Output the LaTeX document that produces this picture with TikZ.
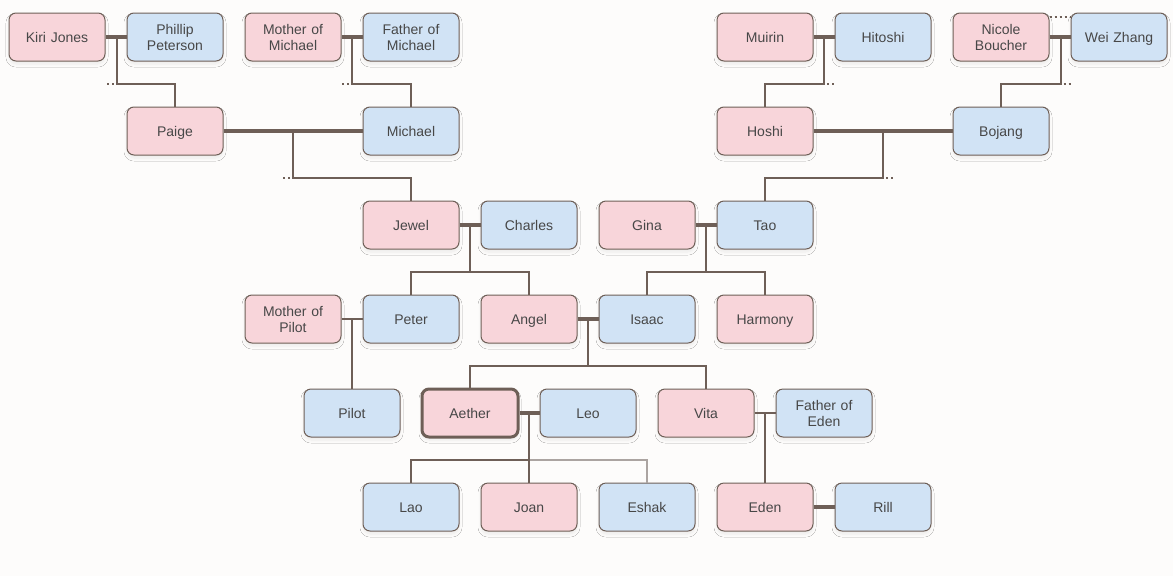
\documentclass[tikz,border=0pt]{standalone}
\usepackage{fontspec}
\setmainfont{Liberation Sans}
\usetikzlibrary{shadows.blur}

\definecolor{Line}{HTML}{6E5F57}
\definecolor{Her}{HTML}{F8D5DA}
\definecolor{Him}{HTML}{D1E3F5}
\definecolor{Txt}{HTML}{474747}
\definecolor{Faded}{HTML}{ABA4A1}
\definecolor{Paper}{HTML}{FDFCFB}

\tikzset{
  person/.style={rectangle, rounded corners=7, draw=Line, line width=1,
    minimum width=96, minimum height=48, text width=86, align=center,
    font=\fontsize{14}{16}\selectfont, text=Txt,
    execute at begin node={\rule[-4pt]{0pt}{19pt}},
    execute at end node={\rule[-4pt]{0pt}{4pt}},
    blur shadow={shadow xshift=0pt, shadow yshift=-3pt, shadow opacity=7,
      shadow blur radius=3pt, shadow blur steps=8}},
  her/.style={person, fill=Her},
  him/.style={person, fill=Him},
  couple/.style={line width=4.5, color=Line},
  kin/.style={line width=2, color=Line},
  trail/.style={line width=2, color=Line, dash pattern=on 2pt off 3pt},
}

\begin{document}
\begin{tikzpicture}[x=1pt, y=-1pt]

 \fill [Paper] (0,0) rectangle (1173,576);
 \useasboundingbox (0,0) rectangle (1173,576);

%%%%%%%%%% Generation 1 %%%%%%%%%%
 \node [her] (kiri) at (57,37) {Kiri Jones};
 \node [him] (phillip) at (175,37) {Phillip\\Peterson};
 \node [her] (motherMichael) at (293,37) {Mother of\\Michael};
 \node [him] (fatherMichael) at (411,37) {Father of\\Michael};
 \node [her] (muirin) at (765,37) {Muirin};
 \node [him] (hitoshi) at (883,37) {Hitoshi};
 \node [her] (nicole) at (1001,37) {Nicole\\Boucher};
 \node [him] (wei) at (1119,37) {Wei Zhang};

%%%%%%%%%% Generation 2 %%%%%%%%%%
 \node [her] (paige) at (175,131) {Paige};
 \node [him] (michael) at (411,131) {Michael};
 \node [her] (hoshi) at (765,131) {Hoshi};
 \node [him] (bojang) at (1001,131) {Bojang};

%%%%%%%%%% Generation 3 %%%%%%%%%%
 \node [her] (jewel) at (411,225) {Jewel};
 \node [him] (charles) at (529,225) {Charles};
 \node [her] (gina) at (647,225) {Gina};
 \node [him] (tao) at (765,225) {Tao};

%%%%%%%%%% Generation 4 %%%%%%%%%%
 \node [her] (motherPilot) at (293,319) {Mother of\\Pilot};
 \node [him] (peter) at (411,319) {Peter};
 \node [her] (angel) at (529,319) {Angel};
 \node [him] (isaac) at (647,319) {Isaac};
 \node [her] (harmony) at (765,319) {Harmony};

%%%%%%%%%% Generation 5 %%%%%%%%%%
 \node [him] (pilot) at (352,413) {Pilot};
 \node [her, line width=3] (aether) at (470,413) {Aether};
 \node [him] (leo) at (588,413) {Leo};
 \node [her] (vita) at (706,413) {Vita};
 \node [him] (fatherEden) at (824,413) {Father of\\Eden};

%%%%%%%%%% Generation 6 %%%%%%%%%%
 \node [him] (lao) at (411,507) {Lao};
 \node [her] (joan) at (529,507) {Joan};
 \node [him] (eshak) at (647,507) {Eshak};
 \node [her] (eden) at (765,507) {Eden};
 \node [him] (rill) at (883,507) {Rill};

%%%%%%%%%% Points pour les branches %%%%%%%%%%
 \coordinate (kp) at (116.5,37) ;      \coordinate (kpBend) at (116.5,84) ;
 \coordinate (mm) at (352,37) ;        \coordinate (mmBend) at (352,84) ;
 \coordinate (mh) at (824,37) ;        \coordinate (mhBend) at (824,84) ;
 \coordinate (nw) at (1060.5,37) ;     \coordinate (nwBend) at (1060.5,84) ;
 \coordinate (pm) at (293,131) ;       \coordinate (pmBend) at (293,178) ;
 \coordinate (hb) at (883,131) ;       \coordinate (hbBend) at (883,178) ;
 \coordinate (jc) at (470,225) ;       \coordinate (jcBend) at (470,272) ;
 \coordinate (gt) at (706,225) ;       \coordinate (gtBend) at (706,272) ;
 \coordinate (mp) at (352,319) ;
 \coordinate (ai) at (588,319) ;       \coordinate (aiBend) at (588,366) ;
 \coordinate (al) at (529,413) ;       \coordinate (alBend) at (529,460) ;
 \coordinate (vf) at (765,413) ;

 % Couples
 \draw [couple] (kiri) -- (phillip) ;
 \draw [couple] (motherMichael) -- (fatherMichael) ;
 \draw [couple] (muirin) -- (hitoshi) ;
 \draw [couple] (nicole) -- (wei) ;
 \draw [couple] (paige) -- (michael) ;
 \draw [couple] (hoshi) -- (bojang) ;
 \draw [couple] (jewel) -- (charles) ;
 \draw [couple] (gina) -- (tao) ;
 \draw [couple] (angel) -- (isaac) ;
 \draw [couple] (aether) -- (leo) ;
 \draw [couple] (eden) -- (rill) ;
 \draw [kin] (motherPilot) -- (peter) ;
 \draw [kin] (vita) -- (fatherEden) ;
 \draw [trail] ([yshift=20]nicole.east) -- ([yshift=20]wei.west) ;

 % Children
 \draw [kin] (kp) -- (kpBend) -| (paige.north) ;
 \draw [kin] (mm) -- (mmBend) -| (michael.north) ;
 \draw [kin] (mh) -- (mhBend) -| (hoshi.north) ;
 \draw [kin] (nw) -- (nwBend) -| (bojang.north) ;
 \draw [kin] (pm) -- (pmBend) -| (jewel.north) ;
 \draw [kin] (hb) -- (hbBend) -| (tao.north) ;
 \draw [kin] (jc) -- (jcBend) -| (peter.north) ;
 \draw [kin] (jcBend) -| (angel.north) ;
 \draw [kin] (gt) -- (gtBend) -| (isaac.north) ;
 \draw [kin] (gtBend) -| (harmony.north) ;
 \draw [kin] (mp) -- (pilot.north) ;
 \draw [kin] (ai) -- (aiBend) -| (aether.north) ;
 \draw [kin] (aiBend) -| (vita.north) ;
 \draw [kin, color=Faded] (alBend) -| (eshak.north) ;
 \draw [kin] (alBend) -| (lao.north) ;
 \draw [kin] (al) -- (joan.north) ;
 \draw [kin] (vf) -- (eden.north) ;

 %%%%%%%%%%% Hidden branches %%%%%%%%%%%
 \draw [trail] ([xshift=-3]kpBend) -- ([xshift=-10]kpBend) ;
 \draw [trail] ([xshift=-3]mmBend) -- ([xshift=-10]mmBend) ;
 \draw [trail] ([xshift=-3]pmBend) -- ([xshift=-10]pmBend) ;
 \draw [trail] ([xshift=3]mhBend) -- ([xshift=10]mhBend) ;
 \draw [trail] ([xshift=3]nwBend) -- ([xshift=10]nwBend) ;
 \draw [trail] ([xshift=3]hbBend) -- ([xshift=10]hbBend) ;

\end{tikzpicture}
\end{document}
